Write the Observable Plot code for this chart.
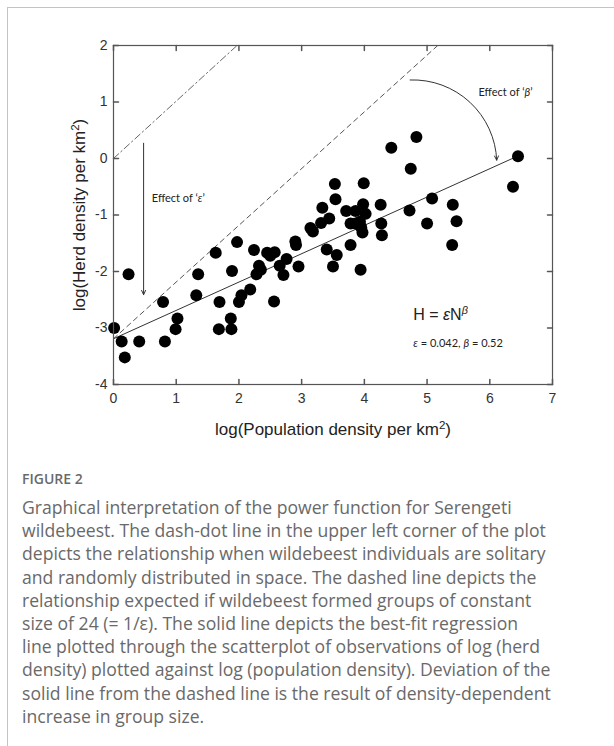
<!DOCTYPE html>
<html>
<head>
<meta charset="utf-8">
<script src="https://cdn.jsdelivr.net/npm/d3@7"></script>
<script src="https://cdn.jsdelivr.net/npm/@observablehq/plot@0.6"></script>
<style>
  html, body { margin: 0; padding: 0; background: #fff; }
  #wrap { position: relative; width: 614px; height: 746px; overflow: hidden; }
  #border { position: absolute; left: 7px; top: 7px; width: 800px; height: 900px;
            border-left: 1px solid #c4c4c4; border-top: 1px solid #c4c4c4; }
  #chart { position: absolute; left: 0; top: 0; }
  #figlabel { position: absolute; left: 22px; top: 469px; line-height: 20px;
              font-family: "Open Sans", sans-serif; font-weight: 600; font-size: 14px; color: #6a6a6a; }
  #caption { position: absolute; left: 22px; top: 496px; line-height: 23.2px;
             font-family: "Open Sans", sans-serif; font-size: 17.6px; color: #696969; }
  #caption div { white-space: nowrap; }
</style>
</head>
<body>
<div id="wrap">
  <div id="border"></div>
  <div id="chart"></div>
  <div id="figlabel"></div>
  <div id="caption"></div>
</div>
<script>
// ---------------- data ----------------
const popDensity = [0.01,0.13,0.18,0.24,0.41,0.79,0.82,0.99,1.02,1.32,1.35,1.63,1.69,1.68,1.87,1.88,1.89,1.97,2.00,2.04,
  2.18,2.24,2.28,2.32,2.35,2.45,2.50,2.57,2.56,2.65,2.71,2.76,2.90,2.91,2.95,3.14,3.18,3.31,3.33,3.44,
  3.40,3.53,3.54,3.56,3.50,3.71,3.78,3.78,3.86,3.86,3.93,3.95,3.97,3.98,3.99,4.02,3.94,4.26,4.27,4.28,
  4.43,4.83,4.74,5.08,4.72,5.00,5.41,5.47,5.40,6.45,6.37];
const herdDensity = [-3.00,-3.24,-3.52,-2.05,-3.24,-2.54,-3.24,-3.02,-2.83,-2.42,-2.05,-1.67,-2.54,-3.02,-2.83,-3.02,-1.99,-1.48,-2.54,-2.42,
  -2.32,-1.62,-2.05,-1.90,-1.97,-1.67,-1.72,-1.66,-2.53,-1.90,-2.06,-1.78,-1.47,-1.53,-1.91,-1.23,-1.29,-1.14,-0.87,-1.06,
  -1.61,-0.45,-0.72,-1.71,-1.91,-0.93,-1.15,-1.53,-0.93,-1.15,-1.12,-1.22,-1.31,-0.81,-0.44,-0.98,-1.97,-0.82,-1.15,-1.36,
  0.19,0.38,-0.18,-0.71,-0.92,-1.15,-0.82,-1.11,-1.53,0.04,-0.50];

const xTicks = [0,1,2,3,4,5,6,7];
const yTicks = [-4,-3,-2,-1,0,1,2];
const xDomain = [0,7];
const yDomain = [-4,2];

// reference lines (endpoints)
const solitaryX = [0, 1.97];        const solitaryY = [0, 2];
const constantGroupX = [0, 5.17];   const constantGroupY = [-3.19, 2];
const fitX = [0, 6.42];             const fitY = [-3.19, 0.03];

// annotation arrows
const epsArrow  = {x1: 0.48, y1: 0.27, x2: 0.48, y2: -2.41};
const betaArrow = {x1: 4.73, y1: 1.39, x2: 6.11, y2: -0.03};

// annotation texts
const epsLabel     = {x: 0.61, y: -0.70, segs: [["Effect of ‘",""],["ε","i"],["’",""]]};
const betaLabel    = {x: 5.82, y: 1.17,  segs: [["Effect of ‘",""],["β","i"],["’",""]]};
const formulaLabel = {x: 4.78, y: -2.77, segs: [["H = ",""],["ε","i"],["N",""],["β","i sup"]]};
const paramsLabel  = {x: 4.78, y: -3.28, segs: [["ε","i"],[" = 0.042, ",""],["β","i"],[" = 0.52",""]]};

const xLabelSegs = [["log(Population density per km",""],["2","sup"],[")",""]];
const yLabelSegs = [["log(Herd density per km",""],["2","sup"],[")",""]];

const figureLabel = "FIGURE 2";
const captionLines = [
  "Graphical interpretation of the power function for Serengeti",
  "wildebeest. The dash-dot line in the upper left corner of the plot",
  "depicts the relationship when wildebeest individuals are solitary",
  "and randomly distributed in space. The dashed line depicts the",
  "relationship expected if wildebeest formed groups of constant",
  "size of 24 (= 1/ε). The solid line depicts the best-fit regression",
  "line plotted through the scatterplot of observations of log (herd",
  "density) plotted against log (population density). Deviation of the",
  "solid line from the dashed line is the result of density-dependent",
  "increase in group size."
];

// ---------------- build ----------------
const points = popDensity.map((x, i) => ({x, y: herdDensity[i]}));
const toPts = (xs, ys) => xs.map((x, i) => ({x, y: ys[i]}));
const plain = segs => segs.map(s => s[0]).join("");
const tickShape = {draw(ctx, l) { ctx.moveTo(0, 0); ctx.lineTo(0, -l); }};
const axisColor = "#555";
const annFont = "Lato, 'Open Sans', sans-serif";

const chart = Plot.plot({
  width: 614,
  height: 450,
  marginLeft: 113,
  marginRight: 62,
  marginTop: 45,
  marginBottom: 66,
  style: {fontFamily: "'Liberation Sans', Arial, sans-serif", fontSize: "14px", color: "#333", background: "transparent"},
  x: {domain: xDomain},
  y: {domain: yDomain},
  marks: [
    Plot.axisX({ticks: xTicks, tickSize: 0, tickPadding: 9, label: null, fontSize: 14, tickFormat: d => String(d)}),
    Plot.axisY({ticks: yTicks, tickSize: 0, tickPadding: 6, label: null, fontSize: 14, tickFormat: d => String(d)}),
    Plot.vector(xTicks, {x: d => d, frameAnchor: "bottom", anchor: "start", length: 5, rotate: 0, shape: tickShape, stroke: axisColor}),
    Plot.vector(xTicks, {x: d => d, frameAnchor: "top", anchor: "start", length: 5, rotate: 180, shape: tickShape, stroke: axisColor}),
    Plot.vector(yTicks, {y: d => d, frameAnchor: "left", anchor: "start", length: 5, rotate: 90, shape: tickShape, stroke: axisColor}),
    Plot.vector(yTicks, {y: d => d, frameAnchor: "right", anchor: "start", length: 5, rotate: -90, shape: tickShape, stroke: axisColor}),
    Plot.line(toPts(solitaryX, solitaryY), {x: "x", y: "y", stroke: "#666", strokeWidth: 1, strokeDasharray: "7,3,1.5,3"}),
    Plot.line(toPts(constantGroupX, constantGroupY), {x: "x", y: "y", stroke: "#555", strokeWidth: 1, strokeDasharray: "5,4"}),
    Plot.line(toPts(fitX, fitY), {x: "x", y: "y", stroke: "#333", strokeWidth: 1}),
    Plot.arrow([epsArrow], {x1: "x1", y1: "y1", x2: "x2", y2: "y2", stroke: "#333", strokeWidth: 1, headLength: 7, headAngle: 50}),
    Plot.arrow([betaArrow], {x1: "x1", y1: "y1", x2: "x2", y2: "y2", bend: 45, stroke: "#333", strokeWidth: 1, headLength: 7, headAngle: 50}),
    Plot.dot(points, {x: "x", y: "y", r: 6, fill: "#000", stroke: "none"}),
    Plot.text([epsLabel], {x: "x", y: "y", text: d => plain(d.segs), textAnchor: "start", fontSize: 11, fontFamily: annFont, fill: "#222"}),
    Plot.text([betaLabel], {x: "x", y: "y", text: d => plain(d.segs), textAnchor: "start", fontSize: 11, fontFamily: annFont, fill: "#222"}),
    Plot.text([formulaLabel], {x: "x", y: "y", text: d => plain(d.segs), textAnchor: "start", fontSize: 16, fill: "#222"}),
    Plot.text([paramsLabel], {x: "x", y: "y", text: d => plain(d.segs), textAnchor: "start", fontSize: 11, fontFamily: annFont, fill: "#222"}),
    Plot.text([plain(xLabelSegs)], {frameAnchor: "bottom", textAnchor: "middle", lineAnchor: "middle", dy: 45, text: d => d, fontSize: 17, fill: "#222"}),
    Plot.text([plain(yLabelSegs)], {frameAnchor: "left", textAnchor: "middle", lineAnchor: "middle", rotate: -90, dx: -34, text: d => d, fontSize: 17, fill: "#222"}),
    Plot.frame({stroke: axisColor, strokeWidth: 1.2})
  ]
});

function rich(svg, segs) {
  const p = plain(segs);
  d3.select(svg).selectAll("text").filter(function() { return this.textContent === p; }).each(function() {
    const t = d3.select(this);
    t.text(null);
    segs.forEach(([s, st]) => {
      const sp = t.append("tspan").text(s);
      if (st.includes("i")) sp.attr("font-style", "italic");
      if (st.includes("sup")) sp.attr("baseline-shift", "super").attr("font-size", "68%");
    });
  });
}
[epsLabel.segs, betaLabel.segs, formulaLabel.segs, paramsLabel.segs, xLabelSegs, yLabelSegs].forEach(s => rich(chart, s));

document.getElementById("chart").appendChild(chart);
document.getElementById("figlabel").textContent = figureLabel;
const cap = document.getElementById("caption");
captionLines.forEach(line => { const d = document.createElement("div"); d.textContent = line; cap.appendChild(d); });
</script>
</body>
</html>
